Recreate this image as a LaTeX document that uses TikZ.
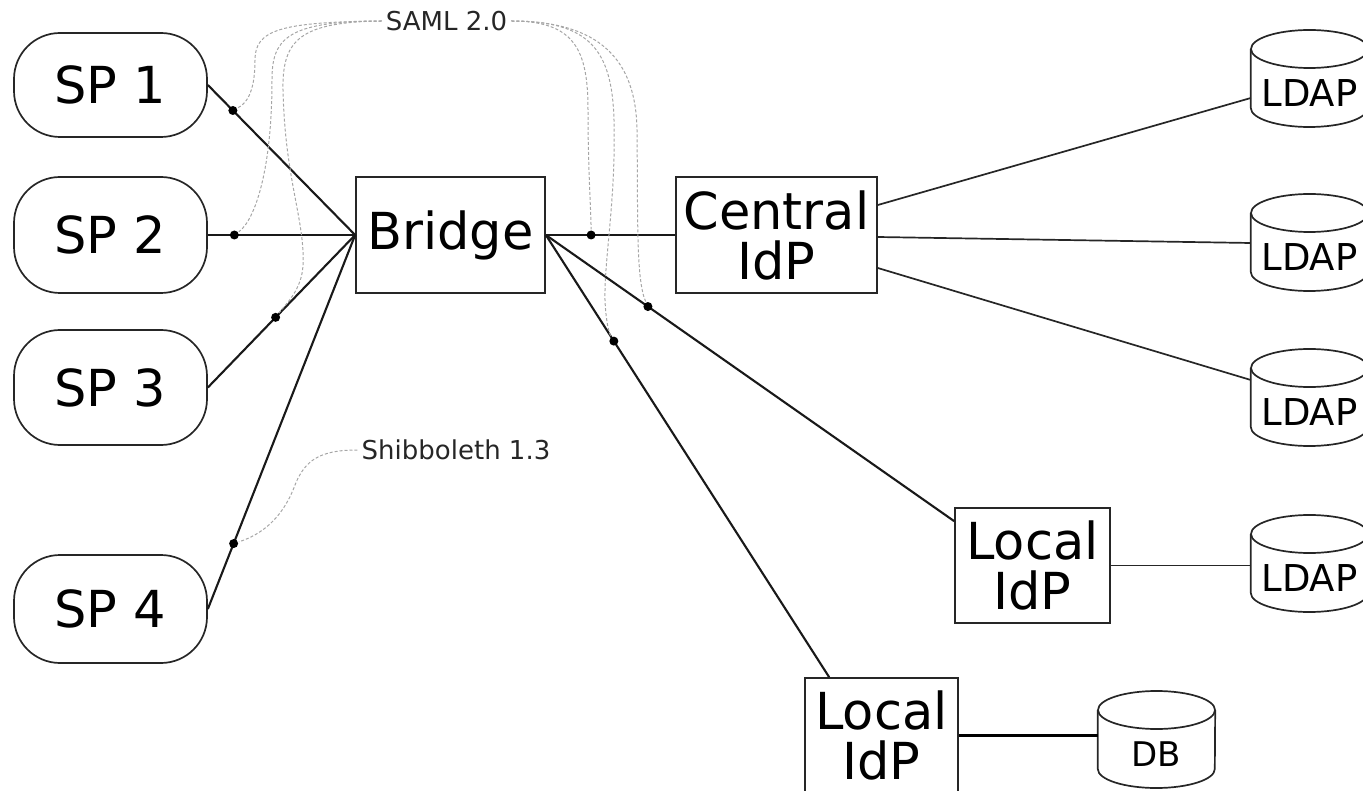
\documentclass[tikz,border=0pt]{standalone}
\usepackage{fontspec}
\setmainfont{DejaVu Sans}
\usetikzlibrary{calc}
\newcommand\fntBig{\fontsize{51}{50}\selectfont}
\newcommand\fntCyl{\fontsize{37}{37}\selectfont}
\newcommand\fntDb{\fontsize{34}{34}\selectfont}
\newcommand\fntNote{\fontsize{26}{26}\selectfont}
\begin{document}
\begin{tikzpicture}[x=1pt,y=-1pt,
  spbox/.style={draw=black!85, line width=1.7pt, rounded corners=46pt,
    minimum width=193, inner sep=0pt, font=\fntBig},
  sqbox/.style={draw=black!85, line width=1.7pt, inner sep=0pt,
    align=center, font=\fntBig},
  cyltext/.style={minimum width=117, inner sep=0pt, font=\fntCyl},
  cylline/.style={draw=black!85, line width=1.7pt},
  conn/.style={line width=2.1pt, black!90},
  thinconn/.style={line width=1.7pt, black!85},
  dot/.style={circle, fill=black, inner sep=0pt, minimum size=9},
  note/.style={font=\fntNote, text=black!85, inner sep=4pt},
  proto/.style={draw=gray!70, line width=1pt, dash pattern=on 3pt off 2pt}
]
\path[use as bounding box] (0,0) rectangle (1363,791);

% service providers
\node[spbox, minimum height=104] (sp1) at (110.5,85) {SP 1};
\node[spbox, minimum height=116] (sp2) at (110.5,235) {SP 2};
\node[spbox, minimum height=115] (sp3) at (110.5,387.5) {SP 3};
\node[spbox, minimum height=108] (sp4) at (110.5,609) {SP 4};

% bridge and identity providers
\node[sqbox, minimum width=189, minimum height=116] (bridge) at (450.5,235) {Bridge};
\node[sqbox, minimum width=201, minimum height=116] (cidp) at (776.5,235) {Central\\IdP};
\node[sqbox, minimum width=155, minimum height=115] (lidp1) at (1032.5,565.5) {Local\\IdP};
\node[sqbox, minimum width=153, minimum height=115] (lidp2) at (881.5,735.5) {Local\\IdP};

% directories and database
\node[cyltext] (l1) at (1309.5,93) {LDAP};
\node[cyltext] (l2) at (1309.5,257) {LDAP};
\node[cyltext] (l3) at (1309.5,412) {LDAP};
\node[cyltext] (l4) at (1309.5,578) {LDAP};
\node[cyltext, font=\fntDb] (db) at (1156.5,754) {DB};
\foreach \n in {l1,l2,l3,l4,db}{
  \draw[cylline] ($(\n.west)+(0,-44)$) -- ($(\n.west)+(0,15)$)
    arc[start angle=180, end angle=360, x radius=58.5pt, y radius=19pt]
    -- ($(\n.east)+(0,-44)$);
  \draw[cylline] ($(\n.center)+(0,-44)$) ellipse [x radius=58.5pt, y radius=19pt];
}

% links into the bridge
\draw[conn] (sp1.east) -- (bridge.west) node[dot, pos=0.17] (d1) {};
\draw[conn] (sp2.east) -- (bridge.west) node[dot, pos=0.18] (d2) {};
\draw[conn] (sp3.east) -- (bridge.west) node[dot, pos=0.46] (d3) {};
\draw[conn] (sp4.east) -- (bridge.west) node[dot, pos=0.175] (d4) {};

% links out of the bridge
\draw[conn] (bridge.east) -- (cidp.west) node[dot, pos=0.35] (d5) {};
\draw[conn] (bridge.east) -- ($(lidp1.north west)+(0,14)$) node[dot, pos=0.25] (d6) {};
\draw[conn] (bridge.east) -- ($(lidp2.north west)+(25,0)$) node[dot, pos=0.24] (d7) {};

% back-end stores
\draw[thinconn] ($(cidp.east)+(0,-30)$) -- ($(l1.west)+(0,5)$);
\draw[thinconn] ($(cidp.east)+(0,2)$) -- ($(l2.west)+(0,-14)$);
\draw[thinconn] ($(cidp.east)+(0,33)$) -- ($(l3.west)+(0,-32)$);
\draw[thinconn] (lidp1.east) -- (lidp1.east -| l4.west);
\draw[line width=3.4pt, black] (lidp2.east) -- (lidp2.east -| db.west);

% protocol labels
\node[note] (saml) at (446.5,21) {SAML 2.0};
\node[note] (shib) at (456,450) {Shibboleth 1.3};

\draw[proto] (saml.west) .. controls (280,22) and (255,30) .. (255,60)
  .. controls (255,95) and (245,104) .. (d1);
\draw[proto] (saml.west) .. controls (285,21) and (272,40) .. (272,80)
  .. controls (272,170) and (255,220) .. (d2);
\draw[proto] (saml.west) .. controls (300,22) and (282,40) .. (283,90)
  .. controls (285,180) and (305,220) .. (303,265)
  .. controls (302,290) and (285,305) .. (d3);
\draw[proto] (saml.east) .. controls (575,21) and (588,50) .. (588,110)
  .. controls (588,170) and (591,210) .. (d5);
\draw[proto] (saml.east) .. controls (590,21) and (612,50) .. (614,120)
  .. controls (616,200) and (604,260) .. (605,300)
  .. controls (606,325) and (610,335) .. (d7);
\draw[proto] (saml.east) .. controls (600,21) and (636,60) .. (637,130)
  .. controls (638,220) and (636,280) .. (d6);
\draw[proto] (shib.west) .. controls (320,450) and (305,460) .. (295,485)
  .. controls (282,520) and (260,535) .. (d4);
\end{tikzpicture}
\end{document}
